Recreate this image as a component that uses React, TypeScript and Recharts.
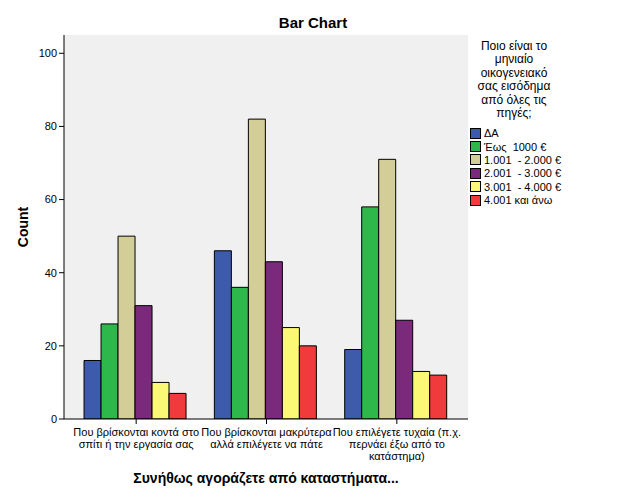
import React from 'react';
import { BarChart, Bar, XAxis, YAxis, CartesianGrid } from 'recharts';

// Συνήθως αγοράζετε από καταστήματα... (x categories)
const categories = ['near', 'far', 'random'];
const categoryLines = [
  ['Που βρίσκονται κοντά στο', 'σπίτι ή την εργασία σας'],
  ['Που βρίσκονται μακρύτερα', 'αλλά επιλέγετε να πάτε'],
  ['Που επιλέγετε τυχαία (π.χ.', 'περνάει έξω από το', 'κατάστημα)'],
];

// income groups (legend)
const incomeLabels = ['ΔΑ', 'Έως  1000 €', '1.001  - 2.000 €', '2.001  - 3.000 €', '3.001  - 4.000 €', '4.001 και άνω'];
const incomeColors = ['#3e5aaa', '#2eb84b', '#d3ce97', '#7b2a7b', '#fbf876', '#f03a3b'];

const countNA = [16, 46, 19];
const countUpTo1000 = [26, 36, 58];
const count1001to2000 = [50, 82, 71];
const count2001to3000 = [31, 43, 27];
const count3001to4000 = [10, 25, 13];
const count4001plus = [7, 20, 12];

const yTicks = [0, 20, 40, 60, 80, 100];
const legendTitle = ['Ποιο είναι το', 'μηνιαίο', 'οικογενειακό', 'σας εισόδημα', 'από όλες τις', 'πηγές;'];

const seriesValues = [countNA, countUpTo1000, count1001to2000, count2001to3000, count3001to4000, count4001plus];
const keys = ['s0', 's1', 's2', 's3', 's4', 's5'];

const data = categories.map((c, i) => {
  const row: any = { cat: c, idx: i };
  keys.forEach((k, j) => (row[k] = seriesValues[j][i]));
  return row;
});

const FONT = 'Arial, "Liberation Sans", sans-serif';

const CategoryTick = ({ x, y, payload }: any) => {
  const lines = categoryLines[payload.index] || [];
  return (
    <text x={x} y={y + 10} textAnchor="middle" fontSize={11} fill="#000" fontFamily={FONT}>
      {lines.map((l, i) => (
        <tspan key={i} x={x} dy={i === 0 ? 0 : 12}>
          {l}
        </tspan>
      ))}
    </text>
  );
};

// plain overlay legend so it doesn't eat plot space
const IncomeLegend = () => (
  <div style={{ position: 'absolute', left: 470, top: 40, fontFamily: FONT, fontSize: 12, color: '#000', width: 156 }}>
    <div style={{ textAlign: 'center', width: 88, lineHeight: '13.4px' }}>
      {legendTitle.map((t, i) => (
        <div key={i}>{t}</div>
      ))}
    </div>
    <div style={{ marginTop: 6 }}>
      {incomeLabels.map((l, i) => (
        <div key={i} style={{ display: 'flex', alignItems: 'center', height: 13.4, fontSize: 11, whiteSpace: 'pre' }}>
          <span
            style={{
              display: 'inline-block',
              width: 9,
              height: 9,
              background: incomeColors[i],
              border: '1px solid #000',
              marginRight: 3,
            }}
          />
          {l}
        </div>
      ))}
    </div>
  </div>
);

export default function App() {
  return (
    <div style={{ position: 'absolute', left: 0, top: 0, width: 626, height: 501, background: '#fff' }}>
      <div
        style={{
          position: 'absolute',
          top: 14,
          left: 0,
          width: 626,
          textAlign: 'center',
          fontFamily: FONT,
          fontWeight: 'bold',
          fontSize: 15,
        }}
      >
        Bar Chart
      </div>
      <div
        style={{
          position: 'absolute',
          top: 470,
          left: 64,
          width: 404,
          textAlign: 'center',
          fontFamily: FONT,
          fontWeight: 'bold',
          fontSize: 14,
        }}
      >
        Συνήθως αγοράζετε από καταστήματα...
      </div>
      <IncomeLegend />
      <BarChart
        width={626}
        height={501}
        data={data}
        margin={{ top: 35, right: 158, bottom: 0, left: 24 }}
        barCategoryGap="10%"
        barGap={0}
      >
        <CartesianGrid fill="#f0f0f0" horizontal={false} vertical={false} />
        <XAxis
          dataKey="cat"
          stroke="#000"
          tickLine={{ stroke: '#000' }}
          tickSize={5}
          tick={<CategoryTick />}
          interval={0}
          padding={{ left: 7, right: 6 }}
          height={82}
        />
        <XAxis xAxisId="top" orientation="top" dataKey="cat" tick={false} tickLine={false} stroke="#777" height={0} />
        <YAxis
          domain={[0, 105]}
          ticks={yTicks}
          allowDataOverflow
          stroke="#000"
          tickSize={5}
          width={40}
          tick={{ fontSize: 11, fill: '#000', fontFamily: FONT }}
          label={{
            value: 'Count',
            angle: -90,
            position: 'insideLeft',
            dx: -6,
            style: { fontSize: 14, fontWeight: 'bold', fill: '#000', fontFamily: FONT, textAnchor: 'middle' },
          }}
        />
        <YAxis yAxisId="r" orientation="right" tick={false} tickLine={false} stroke="#444" width={0} />
        {keys.map((k, i) => (
          <Bar
            key={k}
            dataKey={k}
            name={incomeLabels[i]}
            fill={incomeColors[i]}
            stroke="#000"
            strokeWidth={1}
            isAnimationActive={false}
          />
        ))}
      </BarChart>
    </div>
  );
}
